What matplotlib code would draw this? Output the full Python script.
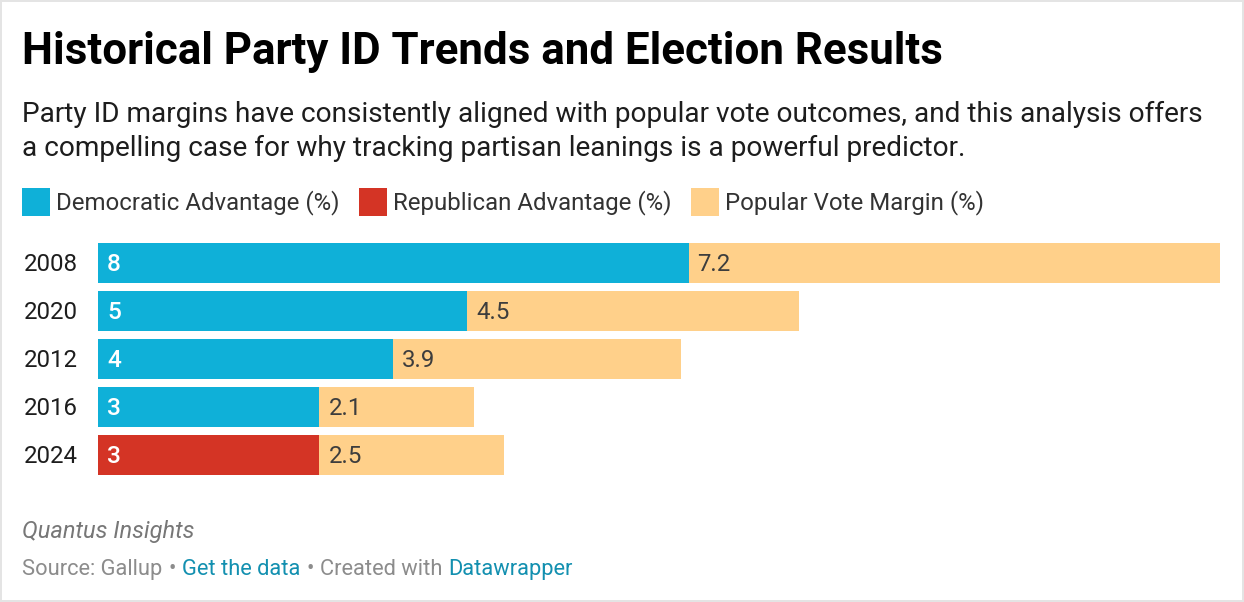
#!/usr/bin/env python3
"""Party ID margins vs popular vote margins, stacked horizontal bars."""
import matplotlib
matplotlib.use("Agg")
import matplotlib.pyplot as plt
from matplotlib.patches import Rectangle

W, H = 1244, 602

years = ["2008", "2020", "2012", "2016", "2024"]
party_adv = [8, 5, 4, 3, 3]
party_side = ["D", "D", "D", "D", "R"]
vote_margin = [7.2, 4.5, 3.9, 2.1, 2.5]
legend_labels = ["Democratic Advantage (%)", "Republican Advantage (%)", "Popular Vote Margin (%)"]

C = {"D": "#0FB0D8", "R": "#D43425", "vote": "#FFD08A"}
LINK = "#1390B0"
GREY = "#8C8C8C"

plt.rcParams["font.family"] = "Roboto"

fig = plt.figure(figsize=(W / 100, H / 100), dpi=100, facecolor="white")


def px_text(x, y, s, **kw):
    # x, y in image pixels, y measured from the top
    kw.setdefault("va", "baseline")
    return fig.text(x / W, 1 - y / H, s, **kw)


def px_rect(x, y, w, h, color):
    fig.add_artist(Rectangle((x / W, 1 - (y + h) / H), w / W, h / H,
                             transform=fig.transFigure, facecolor=color,
                             edgecolor="none"))


# outer frame
for r in [(0, 0, W, 2), (0, 0, 2, H), (W - 2, 0, 2, H), (0, H - 2, W, 2)]:
    px_rect(*r, "#E4E4E4")

px_text(22, 64, "Historical Party ID Trends and Election Results",
        fontsize=31.6, fontweight="bold", color="#000000")
px_text(22, 122, "Party ID margins have consistently aligned with popular vote outcomes, and this analysis offers",
        fontsize=20.15, color="#1d1d1d")
px_text(22, 156, "a compelling case for why tracking partisan leanings is a powerful predictor.",
        fontsize=20.15, color="#1d1d1d")

# legend
for x, tx, col, lab in zip([22, 359, 691], [56, 393, 725],
                           [C["D"], C["R"], C["vote"]], legend_labels):
    px_rect(x, 188, 28, 28, col)
    px_text(tx, 209, lab, fontsize=17.25, color="#333333")

# bars
ax = fig.add_axes([98 / W, 1 - 479 / H, (1220 - 98) / W, 240 / H])
y = range(len(years))
ax.barh(y, party_adv, height=40 / 48, color=[C[s] for s in party_side])
ax.barh(y, vote_margin, left=party_adv, height=40 / 48, color=C["vote"])
ax.set_xlim(0, party_adv[0] + vote_margin[0])
ax.set_ylim(len(years) - 0.5, -0.5)
ax.set_xticks([])
ax.set_yticks([])
for s in ax.spines.values():
    s.set_visible(False)
ax.patch.set_visible(False)

for i, (yr, a, v) in enumerate(zip(years, party_adv, vote_margin)):
    ax.annotate(yr, (0, i), xytext=(-74, 1), textcoords="offset pixels",
                va="center_baseline", fontsize=17.3, color="#1d1d1d")
    ax.annotate(str(a), (0, i), xytext=(9, 1), textcoords="offset pixels",
                va="center_baseline", fontsize=17.6, fontweight="medium", color="white")
    ax.annotate(str(v), (a, i), xytext=(9, 1), textcoords="offset pixels",
                va="center_baseline", fontsize=17.3, color="#3d3d3d")

# footer
px_text(22, 538, "Quantus Insights", fontsize=17, fontstyle="italic", color="#777777")
foot = [("Source: Gallup", GREY, 22), ("•", GREY, 168), ("Get the data", LINK, 182),
        ("•", GREY, 306), ("Created with", GREY, 320), ("Datawrapper", LINK, 448)]
for s, col, x in foot:
    px_text(x, 575, s, fontsize=15.75, color=col)

fig.savefig("out.png", dpi=100)
